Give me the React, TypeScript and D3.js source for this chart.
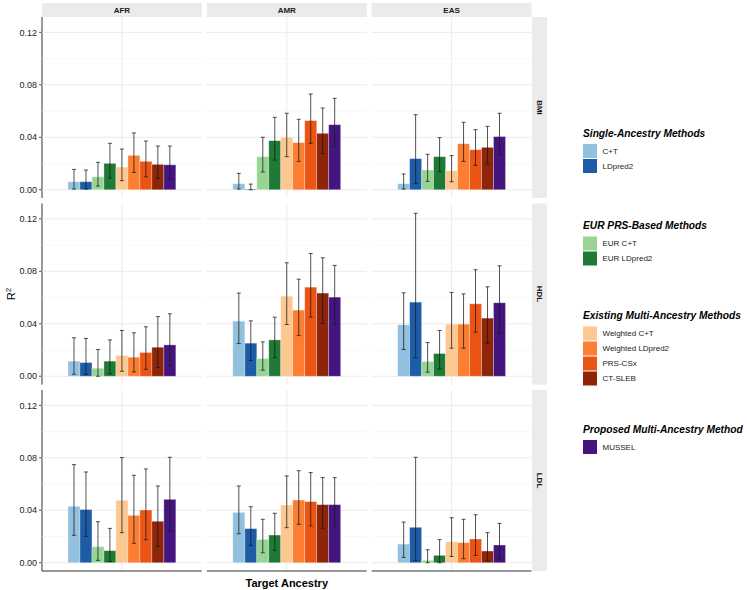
import React from "react";
import * as d3 from "d3";

const methods = [
  "C+T",
  "LDpred2",
  "EUR C+T",
  "EUR LDpred2",
  "Weighted C+T",
  "Weighted LDpred2",
  "PRS-CSx",
  "CT-SLEB",
  "MUSSEL",
];
const methodColors = [
  "#92c1df",
  "#1d5ca6",
  "#98d594",
  "#1f7a36",
  "#fdc791",
  "#fb7e33",
  "#ec5414",
  "#8e2408",
  "#45157f",
];
const ancestries = ["AFR", "AMR", "EAS"];
const traits = ["BMI", "HDL", "LDL"];
const yTicks = [0, 0.04, 0.08, 0.12];
const yMinor = [0.02, 0.06, 0.1];

// rows = AFR, AMR, EAS ; columns follow `methods`
const bmiR2 = [
  [0.0061, 0.0061, 0.0099, 0.0201, 0.0173, 0.0262, 0.0216, 0.0193, 0.019],
  [0.0046, 0.0005, 0.0252, 0.0374, 0.04, 0.0359, 0.0527, 0.043, 0.0496],
  [0.0046, 0.0237, 0.015, 0.0252, 0.0145, 0.0351, 0.0305, 0.0323, 0.0405],
];
const bmiLo = [
  [0.0005, 0.0005, 0.0028, 0.0089, 0.0069, 0.0132, 0.0099, 0.0087, 0.0079],
  [0.0005, 0.0, 0.0135, 0.0226, 0.0252, 0.0216, 0.0354, 0.0275, 0.0328],
  [0.0005, 0.0048, 0.0064, 0.0137, 0.0061, 0.0216, 0.0186, 0.0198, 0.0265],
];
const bmiHi = [
  [0.0155, 0.015, 0.0209, 0.0354, 0.031, 0.0433, 0.0371, 0.0333, 0.0333],
  [0.0125, 0.0043, 0.04, 0.0552, 0.0583, 0.0537, 0.073, 0.0623, 0.0697],
  [0.012, 0.0572, 0.027, 0.0397, 0.026, 0.0514, 0.0458, 0.0483, 0.0583],
];
const hdlR2 = [
  [0.0115, 0.0104, 0.0061, 0.0115, 0.0158, 0.0145, 0.0181, 0.0221, 0.0239],
  [0.042, 0.0252, 0.0135, 0.0277, 0.061, 0.0504, 0.0679, 0.0634, 0.0603],
  [0.0392, 0.0565, 0.0112, 0.0173, 0.0397, 0.0397, 0.0552, 0.0443, 0.056],
];
const hdlLo = [
  [0.0015, 0.0015, 0.0, 0.002, 0.0038, 0.0033, 0.0053, 0.0066, 0.0081],
  [0.0249, 0.012, 0.0046, 0.0142, 0.0394, 0.031, 0.045, 0.0402, 0.0394],
  [0.0204, 0.014, 0.0031, 0.0056, 0.0214, 0.0214, 0.0336, 0.0249, 0.0326],
];
const hdlHi = [
  [0.0293, 0.0288, 0.0204, 0.0277, 0.0349, 0.0331, 0.0377, 0.0455, 0.0476],
  [0.0634, 0.0422, 0.0262, 0.045, 0.0865, 0.074, 0.0936, 0.0903, 0.0845],
  [0.0636, 0.1242, 0.0257, 0.0349, 0.0639, 0.0628, 0.0812, 0.0682, 0.0842],
];
const ldlR2 = [
  [0.043, 0.0405, 0.0122, 0.0092, 0.0476, 0.0361, 0.0402, 0.0316, 0.0483],
  [0.0384, 0.026, 0.0178, 0.0211, 0.044, 0.0478, 0.0466, 0.0443, 0.0443],
  [0.0142, 0.027, 0.0018, 0.0056, 0.016, 0.0153, 0.0181, 0.0089, 0.0135],
];
const ldlLo = [
  [0.0209, 0.0201, 0.0018, 0.001, 0.0229, 0.0148, 0.0176, 0.0125, 0.0239],
  [0.0221, 0.0132, 0.0076, 0.0094, 0.0267, 0.0293, 0.028, 0.0262, 0.0277],
  [0.0041, 0.0015, 0.0, 0.0, 0.0048, 0.0031, 0.0056, 0.0013, 0.0023],
];
const ldlHi = [
  [0.0748, 0.0692, 0.0313, 0.0262, 0.0802, 0.0667, 0.0715, 0.0585, 0.0804],
  [0.0585, 0.0427, 0.0331, 0.0377, 0.0662, 0.0702, 0.0687, 0.0649, 0.0649],
  [0.031, 0.0804, 0.0099, 0.0176, 0.0343, 0.0331, 0.0366, 0.0229, 0.03],
];

const legendGroups = [
  { title: "Single-Ancestry Methods", items: [0, 1] },
  { title: "EUR PRS-Based Methods", items: [2, 3] },
  { title: "Existing Multi-Ancestry Methods", items: [4, 5, 6, 7] },
  { title: "Proposed Multi-Ancestry Method", items: [8] },
];

const tableR2 = [bmiR2, hdlR2, ldlR2];
const tableLo = [bmiLo, hdlLo, ldlLo];
const tableHi = [bmiHi, hdlHi, ldlHi];

const FONT = "'Liberation Sans', Arial, Helvetica, sans-serif";

export default function App() {
  const W = 747;
  const H = 590;
  const left = 42;
  const right = 531.5;
  const colGap = 5;
  const top = 17;
  const rowH = 181;
  const rowGap = 5.5;
  const panelW = (right - left - colGap * 2) / 3;

  const y = d3.scaleLinear().domain([-0.0063, 0.1317]).range([rowH, 0]);
  const xb = d3
    .scaleBand()
    .domain(methods)
    .range([0, panelW])
    .paddingInner(0)
    .paddingOuter(2.17);
  const fmt = d3.format(".2f");

  const legendY = [136.5, 229, 319, 432.5];

  return (
    <svg
      width={W}
      height={H}
      style={{ position: "absolute", left: 0, top: 0, fontFamily: FONT }}
    >
      <rect width={W} height={H} fill="#fff" />
      {traits.map((trait, r) => {
        const py = top + r * (rowH + rowGap);
        return (
          <g key={trait} transform={`translate(0, ${py})`}>
            {/* y axis */}
            <line x1={left} x2={left} y1={0} y2={rowH} stroke="#333" strokeWidth={1} />
            {yTicks.map((t) => (
              <g key={t} transform={`translate(0, ${y(t)})`}>
                <line x1={left - 3} x2={left} stroke="#333" strokeWidth={0.8} />
                <text x={left - 5} dy="0.35em" textAnchor="end" fontSize={9} fill="#1a1a1a">
                  {fmt(t)}
                </text>
              </g>
            ))}
            {ancestries.map((anc, c) => {
              const px = left + c * (panelW + colGap);
              const r2 = tableR2[r][c];
              const lo = tableLo[r][c];
              const hi = tableHi[r][c];
              return (
                <g key={anc} transform={`translate(${px}, 0)`}>
                  {yMinor.map((t) => (
                    <line key={t} x1={0} x2={panelW} y1={y(t)} y2={y(t)} stroke="#f4f4f4" strokeWidth={0.6} />
                  ))}
                  {yTicks.map((t) => (
                    <line key={t} x1={0} x2={panelW} y1={y(t)} y2={y(t)} stroke="#ebebeb" strokeWidth={1} />
                  ))}
                  <line x1={panelW / 2} x2={panelW / 2} y1={0} y2={rowH} stroke="#ebebeb" strokeWidth={1} />
                  {methods.map((m, i) => (
                    <rect
                      key={m}
                      x={xb(m)}
                      width={xb.bandwidth()}
                      y={y(r2[i])}
                      height={y(0) - y(r2[i])}
                      fill={methodColors[i]}
                      stroke="#ffffff"
                      strokeOpacity={0.35}
                      strokeWidth={0.8}
                    />
                  ))}
                  {methods.map((m, i) => {
                    const cx = (xb(m) as number) + xb.bandwidth() / 2;
                    return (
                      <g key={m} stroke="#1a1a1a" strokeWidth={0.9} strokeOpacity={0.85}>
                        <line x1={cx} x2={cx} y1={y(lo[i])} y2={y(hi[i])} />
                        <line x1={cx - 2} x2={cx + 2} y1={y(lo[i])} y2={y(lo[i])} />
                        <line x1={cx - 2} x2={cx + 2} y1={y(hi[i])} y2={y(hi[i])} />
                      </g>
                    );
                  })}
                  {r === traits.length - 1 && (
                    <line x1={0} x2={panelW} y1={rowH} y2={rowH} stroke="#333" strokeWidth={1} />
                  )}
                </g>
              );
            })}
            {/* right strip */}
            <rect x={right + 0.5} y={0} width={15} height={rowH} fill="#ebebeb" />
            <text
              transform={`translate(${right + 8}, ${rowH / 2}) rotate(90)`}
              textAnchor="middle"
              dy="0.35em"
              fontSize={8}
              fontWeight="bold"
              fill="#1a1a1a"
            >
              {trait}
            </text>
          </g>
        );
      })}
      {/* top strips */}
      {ancestries.map((anc, c) => {
        const px = left + c * (panelW + colGap);
        return (
          <g key={anc}>
            <rect x={px} y={3} width={panelW} height={top - 3} fill="#ebebeb" />
            <text x={px + panelW / 2} y={10} dy="0.35em" textAnchor="middle" fontSize={8} fontWeight="bold" fill="#1a1a1a">
              {anc}
            </text>
          </g>
        );
      })}
      {/* axis titles */}
      <text
        transform={`translate(15, ${top + (3 * rowH + 2 * rowGap) / 2}) rotate(-90)`}
        textAnchor="middle"
        fontSize={11}
        fill="#000"
      >
        R<tspan dy={-4} fontSize={8}>2</tspan>
      </text>
      <text x={(left + right) / 2} y={587} textAnchor="middle" fontSize={11} fontWeight="bold" fill="#000">
        Target Ancestry
      </text>
      {/* legend */}
      {legendGroups.map((g, gi) => (
        <g key={g.title} transform={`translate(583, ${legendY[gi]})`}>
          <text x={0} y={0} fontSize={10.2} fontWeight="bold" fontStyle="italic" fill="#000">
            {g.title}
          </text>
          {g.items.map((idx, k) => (
            <g key={idx} transform={`translate(0, ${7.5 + k * 15})`}>
              <rect x={0} y={0} width={14} height={14} fill={methodColors[idx]} />
              <text x={19.5} y={7} dy="0.35em" fontSize={8} fill="#1a1a1a">
                {methods[idx]}
              </text>
            </g>
          ))}
        </g>
      ))}
    </svg>
  );
}
